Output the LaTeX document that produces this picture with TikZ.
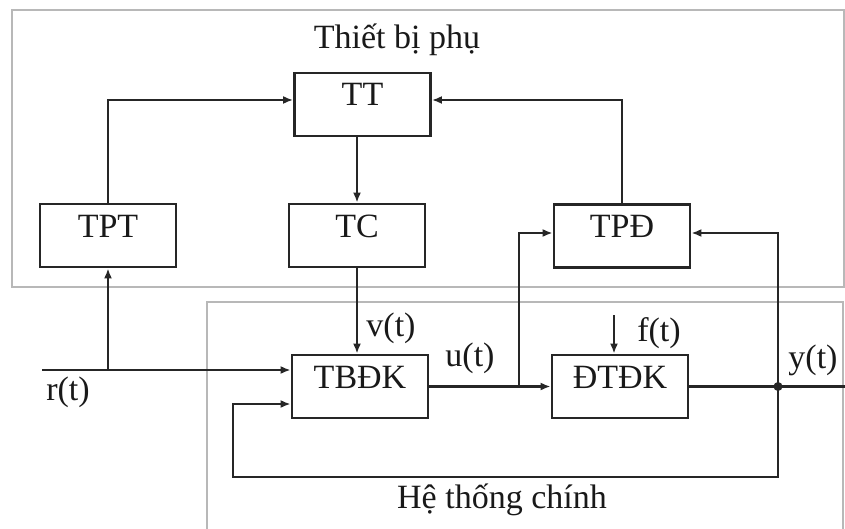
\documentclass[tikz,border=0pt]{standalone}
\usepackage{fontspec}
\setmainfont{Liberation Serif}
\usetikzlibrary{arrows.meta}
\begin{document}
\begin{tikzpicture}[x=1pt,y=-1pt,
  blk/.style={draw=black!85, line width=2.8pt, minimum width=136pt, minimum height=63pt,
    inner sep=0pt, text height=23pt, text depth=20pt, font=\fontsize{34}{34}\selectfont, text=black!90},
  frame/.style={draw=black!28, line width=1.5pt},
  conn/.style={draw=black!85, line width=2.2pt},
  arr/.style={conn, -{Latex[length=10pt,width=8pt]}},
  lbl/.style={font=\fontsize{34}{34}\selectfont, inner sep=0pt, text=black!90}]
\useasboundingbox (0,0) rectangle (845,529);
\fill[white] (0,0) rectangle (845,529);
% frames
\draw[frame] (12,10) rectangle (844,287);
\draw[frame] (207,302) rectangle (843,540);
% blocks
\node[blk] (tt)   at (362.5,104.5) {TT};
\node[blk] (tpt)  at (108,235.5) {TPT};
\node[blk] (tc)   at (357,235.5) {TC};
\node[blk] (tpd)  at (622,236) {TPĐ};
\node[blk] (tbdk) at (360,386.5) {TBĐK};
\node[blk] (dtdk) at (620,386.5) {ĐTĐK};
% coordinates
\coordinate (rin) at (42,370);
\coordinate (yd) at (778,386.5);
\coordinate (yout) at (846,386.5);
\coordinate (ub) at (519,386.5);
\coordinate (fin) at (614,315);
\coordinate (fb2) at (233,477);
% connectors
\draw[arr] (tpt.north) |- ([yshift=4.5pt]tt.west);
\draw[arr] (tpd.north) |- ([yshift=4.5pt]tt.east);
\draw[arr] (tt.south -| tc.north) -- (tc.north);
\draw[arr] (tc.south) -- (tc.south |- tbdk.north);
\draw[arr] (rin) -- (rin -| tbdk.west);
\draw[arr] (tpt.south |- rin) -- (tpt.south);
\draw[arr] (yd) |- (fb2) |- ([yshift=-17.5pt]tbdk.west);
\draw[arr] (tbdk.east) -- (dtdk.west);
\draw[arr] (ub) |- ([yshift=3pt]tpd.west);
\draw[conn] (dtdk.east) -- (yout);
\draw[arr] (yd) |- ([yshift=3pt]tpd.east);
\draw[arr] (fin) -- (fin |- dtdk.north);
\fill[black!85] (yd) circle (4.5pt);
% labels
\node[lbl] (l1) at (397,40) {Thiết bị phụ};
\node[lbl] (l2) at (502,500) {Hệ thống chính};
\node[lbl] (lr) at (68,392) {r(t)};
\node[lbl] (lv) at (391,328) {v(t)};
\node[lbl] (lu) at (470,358) {u(t)};
\node[lbl] (lf) at (659,333) {f(t)};
\node[lbl] (ly) at (813,360) {y(t)};
\end{tikzpicture}
\end{document}
